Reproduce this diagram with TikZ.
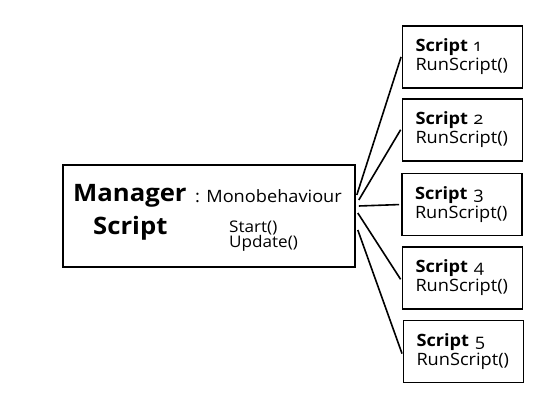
\documentclass[tikz,border=0pt]{standalone}
\usepackage{fontspec}
\setmainfont[FakeStretch=1.07,Numbers=OldStyle]{Open Sans}
\usetikzlibrary{positioning,calc}

\begin{document}
\begin{tikzpicture}[
    x=1pt, y=-1pt,
    mgrbox/.style={draw,line width=1.6pt,minimum width=292pt,minimum height=102pt,
                   inner sep=0pt},
    scriptbox/.style={draw,line width=1.6pt,minimum width=120pt,minimum height=62pt,
                      inner xsep=13pt,text width=94pt,align=left,
                      font=\fontsize{17}{19}\selectfont},
    lbl/.style={anchor=base west,inner sep=0pt},
    link/.style={line width=1.6pt,shorten >=2pt},
  ]
  \useasboundingbox (0,0) rectangle (542,403);

  % --- manager script (left) ---
  \node[mgrbox] (mgr) at (209,216) {};
  \node[lbl,font=\fontsize{24}{26}\selectfont\bfseries] (mname) at (73,202) {Manager};
  \node[lbl,font=\fontsize{24}{26}\selectfont\bfseries] (mscript) at (93,235) {Script};
  \node[lbl,font=\fontsize{17}{19}\selectfont] (mbase) at (195,203) {: Monobehaviour};
  \node[lbl,font=\fontsize{16}{16}\selectfont] (mstart) at (229,233) {Start()};
  \node[lbl,font=\fontsize{16}{16}\selectfont] (mupdate) at (229,248) {Update()};

  % --- the five scripts (right) ---
  \node[scriptbox] (s1) at (462.5,57)    {\textbf{Script}~1\\RunScript()};
  \node[scriptbox] (s2) at (462.5,130)   {\textbf{Script}~2\\RunScript()};
  \node[scriptbox] (s3) at (462,204.5)   {\textbf{Script}~3\\RunScript()};
  \node[scriptbox] (s4) at (462.5,278)   {\textbf{Script}~4\\RunScript()};
  \node[scriptbox] (s5) at (463.5,351.5) {\textbf{Script}~5\\RunScript()};

  % --- links from the manager ---
  \coordinate (m1) at ([xshift=1pt,yshift=21pt]mgr.east);
  \coordinate (m2) at ([xshift=3pt,yshift=16pt]mgr.east);
  \coordinate (m3) at ([xshift=3pt,yshift=10pt]mgr.east);
  \coordinate (m4) at ([xshift=2pt,yshift=3pt]mgr.east);
  \coordinate (m5) at ([xshift=2pt,yshift=-14pt]mgr.east);
  \draw[link] (m1) -- ([yshift=2pt]s1.west);
  \draw[link] (m2) -- ([yshift=2pt]s2.west);
  \draw[link] (m3) -- (s3.west);
  \draw[link] (m4) -- ([yshift=-3pt]s4.west);
  \draw[link] (m5) -- ([yshift=-4pt]s5.west);

\end{tikzpicture}
\end{document}
